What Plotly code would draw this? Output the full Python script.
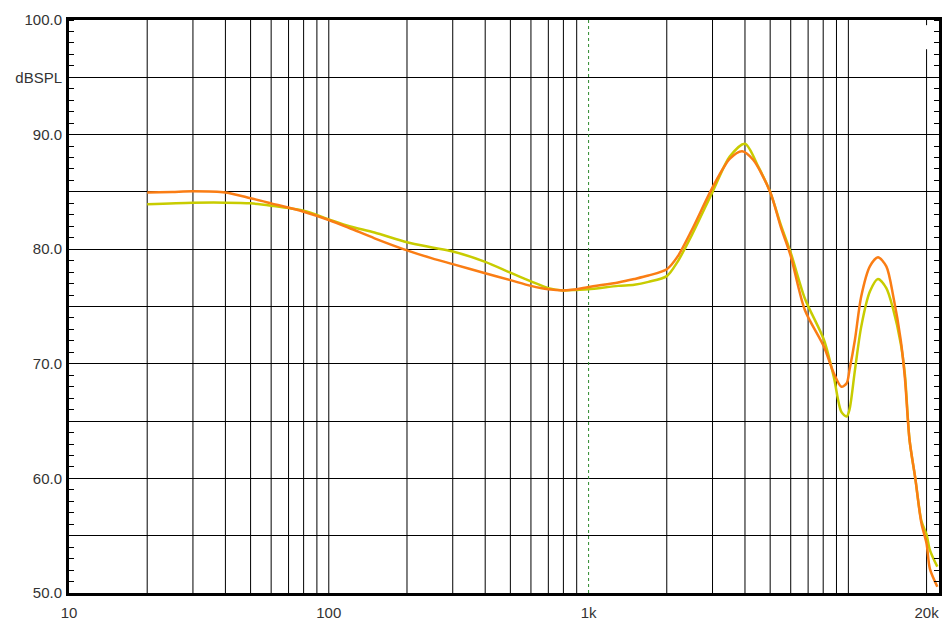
import math
import plotly.graph_objects as go

# ---- data ----
freq_orange = [20, 25, 30, 40, 50, 60, 80, 100, 120, 150, 200, 250, 300, 400, 500, 600, 700, 800, 900,
               1000, 1300, 1500, 1700, 2000, 2200, 2500, 3000, 3500, 3900, 4300, 5000, 5500, 6000, 6800,
               8050, 8780, 9400, 9850, 10100, 10600, 11200, 12100, 13000, 14000, 14900, 15900,
               16500, 17200, 18100, 19100, 20000, 20600, 22000]
spl_orange = [84.95, 85.0, 85.05, 84.95, 84.45, 84.0, 83.27, 82.55, 81.85, 80.95, 79.9, 79.2, 78.7, 77.9,
              77.3, 76.8, 76.5, 76.4, 76.5, 76.7, 77.1, 77.4, 77.7, 78.25, 79.35, 81.7, 85.4, 87.9, 88.55,
              87.8, 85.0, 81.9, 79.4, 74.7, 71.5, 69.2, 68.0, 68.3, 69.45, 72.1, 75.85, 78.5, 79.3,
              78.5, 75.85, 72.1, 68.8, 63.35, 60.0, 56.1, 54.3, 52.1, 50.55]

freq_green = [20, 30, 40, 50, 60, 80, 100, 120, 150, 200, 250, 300, 400, 500, 600, 700, 800, 900,
              1000, 1300, 1500, 1700, 2000, 2200, 2500, 3000, 3500, 4000, 4500, 5000, 5500, 6000, 6800,
              8050, 8780, 9400, 9850, 10100, 10600, 11200, 12100, 13000, 14000, 14900, 15900,
              16500, 17200, 18100, 19100, 20000, 20600, 22000]
spl_green = [83.92, 84.05, 84.06, 84.0, 83.8, 83.35, 82.6, 82.0, 81.45, 80.6, 80.15, 79.8, 78.9, 77.95,
             77.2, 76.6, 76.4, 76.45, 76.5, 76.8, 76.9, 77.15, 77.65, 78.9, 81.25, 85.0, 88.1, 89.2, 87.2,
             85.0, 82.1, 79.7, 75.7, 72.1, 68.9, 65.8, 65.4, 66.0, 69.45, 73.2, 76.3, 77.4, 76.6,
             74.7, 71.8, 69.1, 63.35, 60.0, 56.3, 55.1, 53.75, 52.3]

grid_freqs = [20, 30, 40, 50, 60, 70, 80, 90, 100, 200, 300, 400, 500, 600, 700, 800, 900,
              2000, 3000, 4000, 5000, 6000, 7000, 8000, 9000, 10000]
ref_freq = 1000
partial_freq = 20000

x_tickvals = [10, 100, 1000, 20000]
x_ticktext = ["10", "100", "1k", "20k"]
y_tickvals = [50, 55, 60, 65, 70, 75, 80, 85, 90, 95, 100]
y_ticktext = ["50.0", "", "60.0", "", "70.0", "", "80.0", "", "90.0", "dBSPL", "100.0"]
y_min, y_max = 50, 100

fig = go.Figure()

# vertical grid lines, drawn as a trace on the log axis
gx, gy = [], []
for f in grid_freqs:
    gx += [f, f, None]
    gy += [y_min, y_max, None]
fig.add_trace(go.Scatter(x=gx, y=gy, mode="lines", line=dict(color="black", width=1),
                         showlegend=False, hoverinfo="skip"))
fig.add_trace(go.Scatter(x=[ref_freq, ref_freq], y=[y_min, y_max], mode="lines",
                         line=dict(color="#2E8B2E", width=1, dash="dot"),
                         showlegend=False, hoverinfo="skip"))
fig.add_trace(go.Scatter(x=[partial_freq, partial_freq, None, partial_freq, partial_freq],
                         y=[y_min, 97.45, None, 99.55, y_max], mode="lines",
                         line=dict(color="black", width=1), showlegend=False, hoverinfo="skip"))

fig.add_trace(go.Scatter(x=freq_green, y=spl_green, mode="lines",
                         line=dict(color="#C8CC00", width=2.5, shape="spline", smoothing=0.8),
                         showlegend=False, hoverinfo="skip"))
fig.add_trace(go.Scatter(x=freq_orange, y=spl_orange, mode="lines",
                         line=dict(color="#FA7D14", width=2.5, shape="spline", smoothing=0.8),
                         showlegend=False, hoverinfo="skip"))

font = dict(family="Liberation Sans, Arial, sans-serif", size=15, color="#333333")

# the page body adds an 8px margin, so the figure is sized to fit inside the window
fig.update_layout(
    width=935, height=615,
    margin=dict(l=61, r=4, t=12, b=30, autoexpand=False),
    paper_bgcolor="white", plot_bgcolor="white",
    xaxis=dict(type="log", range=[math.log10(10), math.log10(22330)], automargin=False,
               tickvals=x_tickvals, ticktext=x_ticktext, ticks="", showgrid=False,
               showline=True, linecolor="black", linewidth=3, mirror=True,
               tickfont=font, ticklabelstandoff=4, zeroline=False),
    yaxis=dict(range=[y_min, y_max], tickvals=y_tickvals, ticktext=y_ticktext, ticks="",
               automargin=False,
               showgrid=True, gridcolor="black", gridwidth=1,
               showline=True, linecolor="black", linewidth=3, mirror="ticks",
               tickfont=font, ticklabelstandoff=1, zeroline=False,
               minor=dict(dtick=1, ticks="inside", ticklen=5, tickcolor="black", tickwidth=1,
                          showgrid=False)),
)

fig.write_html("out.html")
